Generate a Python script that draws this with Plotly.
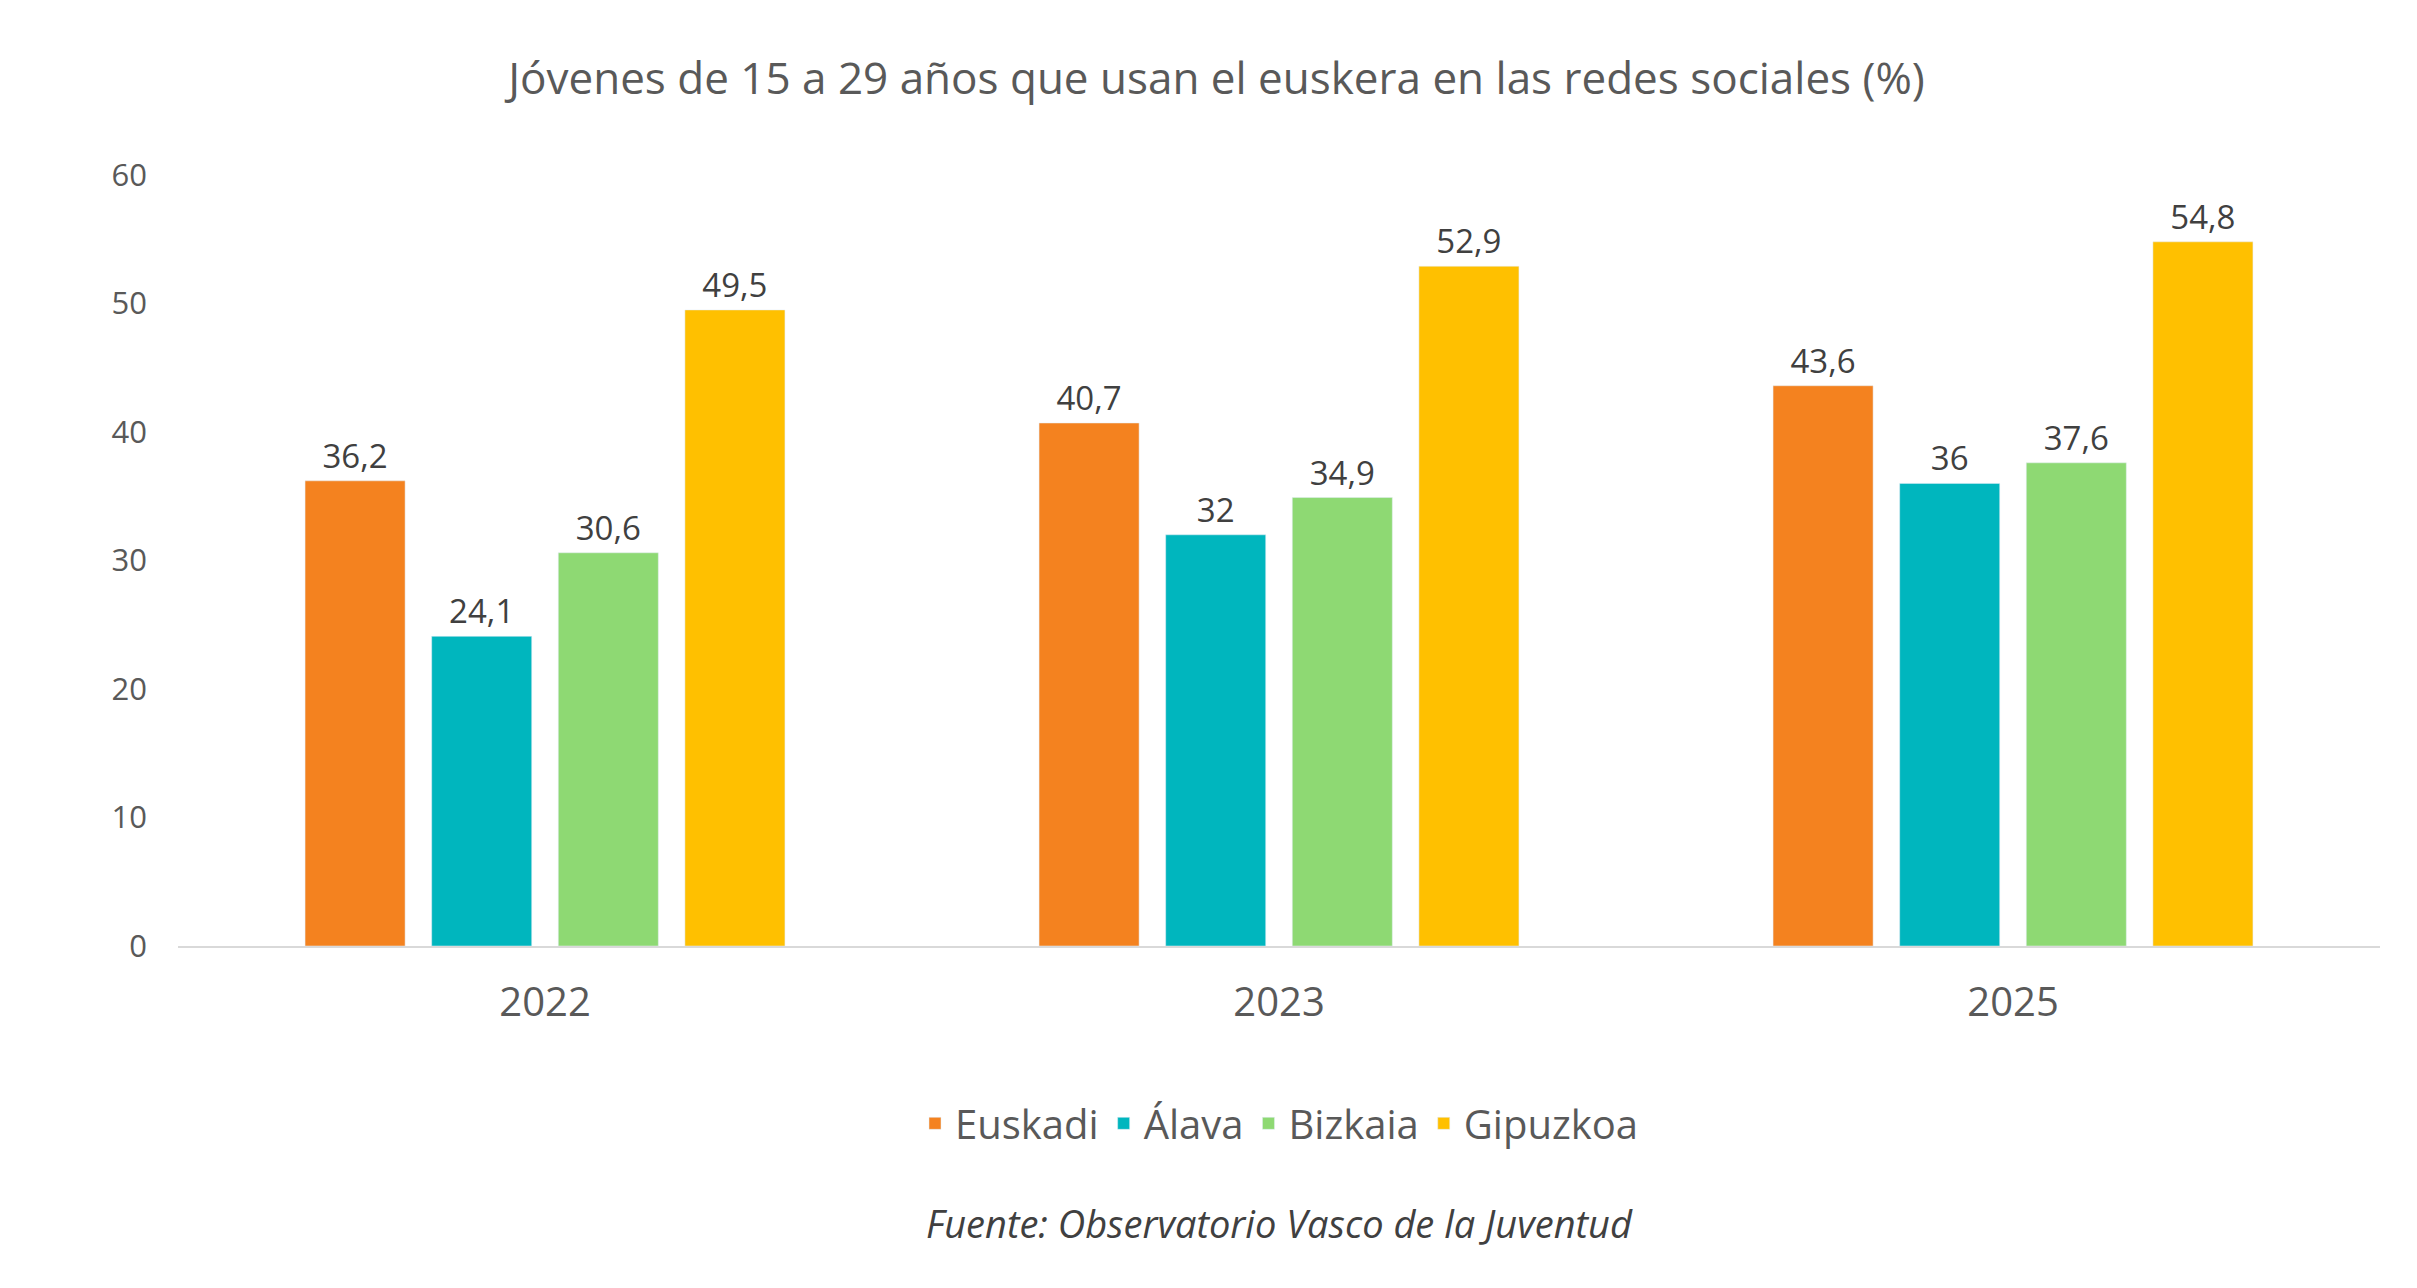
import plotly.graph_objects as go

years = ["2022", "2023", "2025"]
series = ["Euskadi", "Álava", "Bizkaia", "Gipuzkoa"]
euskadi = [36.2, 40.7, 43.6]
alava = [24.1, 32, 36]
bizkaia = [30.6, 34.9, 37.6]
gipuzkoa = [49.5, 52.9, 54.8]
colors = ["#F4821F", "#00B6BE", "#8ED973", "#FFC000"]

FONT = "Open Sans"
fig = go.Figure()
for name, vals, col in zip(series, [euskadi, alava, bizkaia, gipuzkoa], colors):
    fig.add_trace(go.Bar(
        x=years, y=vals, name=name, marker_color=col,
        text=[f"{v:g}".replace(".", ",") for v in vals],
        textposition="outside", cliponaxis=False,
        textfont=dict(size=33, color="#404040", family=FONT),
    ))

fig.update_layout(
    width=2417, height=1288,
    paper_bgcolor="white", plot_bgcolor="white",
    barmode="group", bargap=0.31, bargroupgap=0.21,
    title=dict(text="Jóvenes de 15 a 29 años que usan el euskera en las redes sociales (%)",
               x=0.5, xanchor="center", y=0.945, yanchor="middle",
               font=dict(size=44, color="#595959", family=FONT)),
    margin=dict(l=170, r=45, t=167, b=350),
    font=dict(family=FONT, color="#595959"),
    legend=dict(orientation="h", x=0.5, xanchor="center", y=-0.23, yanchor="middle",
                font=dict(size=40, color="#595959"), traceorder="normal"),
    annotations=[dict(text="<i>Fuente: Observatorio Vasco de la Juventud</i>",
                      xref="paper", yref="paper", x=0.5, y=-0.395,
                      showarrow=False, font=dict(size=38, color="#404040"))],
)
fig.update_xaxes(showline=True, linecolor="#D9D9D9", linewidth=2,
                 tickfont=dict(size=40, color="#595959"), ticks="", ticklabelstandoff=20)
fig.update_yaxes(range=[0, 60], dtick=10, showgrid=False, zeroline=False,
                 tickfont=dict(size=31, color="#595959"), ticklabelstandoff=30)

fig.write_html("out.html")
